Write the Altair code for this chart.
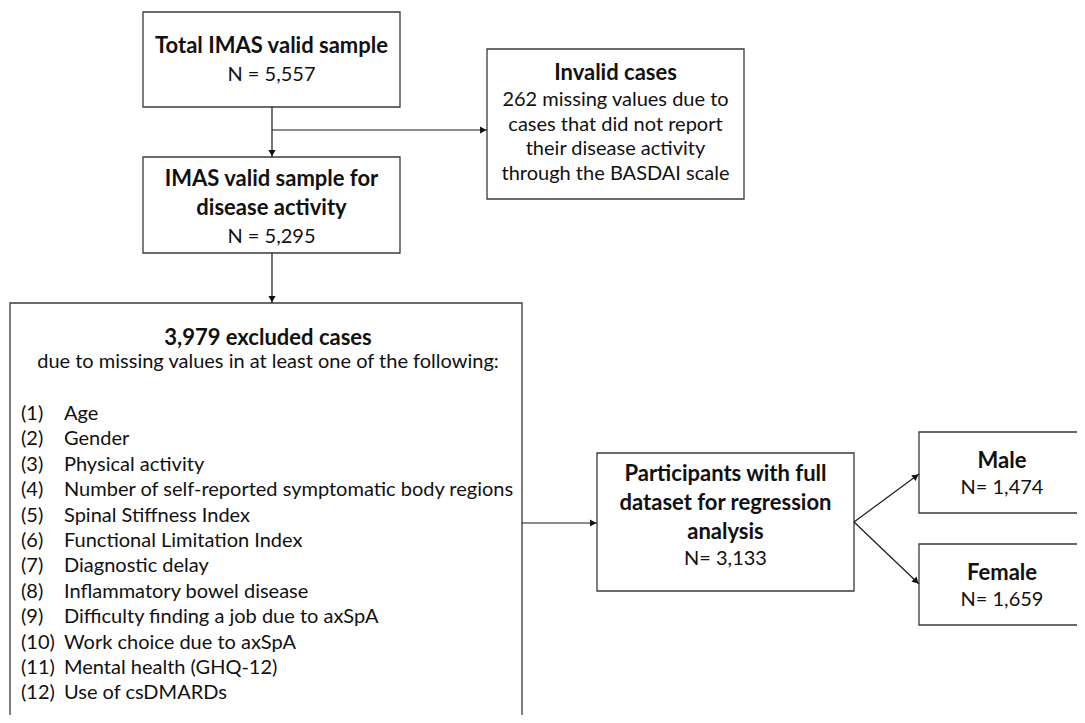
import math
import altair as alt
import pandas as pd

# ---------------- content ----------------
total_title = "Total IMAS valid sample"
total_n = "N = 5,557"
invalid_title = "Invalid cases"
invalid_lines = ["262 missing values due to", "cases that did not report",
                 "their disease activity", "through the BASDAI scale"]
valid_title_lines = ["IMAS valid sample for", "disease activity"]
valid_n = "N = 5,295"
excluded_title = "3,979 excluded cases"
excluded_sub = "due to missing values in at least one of the following:"
excluded_nums = ["(1)", "(2)", "(3)", "(4)", "(5)", "(6)", "(7)", "(8)",
                 "(9)", "(10)", "(11)", "(12)"]
excluded_items = ["Age", "Gender", "Physical activity",
                  "Number of self-reported symptomatic body regions",
                  "Spinal Stiffness Index", "Functional Limitation Index",
                  "Diagnostic delay", "Inflammatory bowel disease",
                  "Difficulty finding a job due to axSpA",
                  "Work choice due to axSpA", "Mental health (GHQ-12)",
                  "Use of csDMARDs"]
final_title_lines = ["Participants with full", "dataset for regression", "analysis"]
final_n = "N= 3,133"
male_title, male_n = "Male", "N= 1,474"
female_title, female_n = "Female", "N= 1,659"

# ---------------- layout (page pixels) ----------------
FONT = "Lato"
FS = 20
FSB = 22
BIG_R = 522
boxes = pd.DataFrame([
    dict(x=143, x2=400, y=12, y2=107),      # total
    dict(x=487, x2=744, y=49, y2=199),      # invalid
    dict(x=143, x2=400, y=157, y2=253),     # valid
    dict(x=10, x2=BIG_R, y=303, y2=760),    # excluded
    dict(x=597, x2=854, y=453, y2=591),     # final
    dict(x=919, x2=1120, y=432, y2=513),    # male
    dict(x=919, x2=1120, y=544, y2=625),    # female
])

segments = [
    (272, 107, 272, 157),
    (272, 130, 487, 130),
    (272, 253, 272, 303),
    (BIG_R, 523, 597, 523),
    (854, 522, 919, 474),
    (854, 522, 919, 584),
]
seg_df = pd.DataFrame([dict(x=a, y=b, x2=c, y2=d) for a, b, c, d in segments])
heads = []
R = 3.8
for a, b, c, d in segments:
    L = math.hypot(c - a, d - b)
    ux, uy = (c - a) / L, (d - b) / L
    ang = math.degrees(math.atan2(ux, -uy)) % 360
    heads.append(dict(x=c - ux * R, y=d - uy * R, ang=ang))
head_df = pd.DataFrame(heads)

bold_rows = []
reg_rows = []
def add(rows, text, x, y):
    rows.append(dict(text=text, x=x, y=y))

add(bold_rows, total_title, 271.5, 46)
add(reg_rows, total_n, 271.5, 75)
add(bold_rows, invalid_title, 615.5, 73)
for i, t in enumerate(invalid_lines):
    add(reg_rows, t, 615.5, 100 + i * 24.5)
for i, t in enumerate(valid_title_lines):
    add(bold_rows, t, 271.5, 179 + i * 29)
add(reg_rows, valid_n, 271.5, 237)
add(bold_rows, excluded_title, 268, 338)
add(reg_rows, excluded_sub, 268, 362)
for i, t in enumerate(final_title_lines):
    add(bold_rows, t, 725.5, 474 + i * 29)
add(reg_rows, final_n, 725.5, 559)
add(bold_rows, male_title, 1002, 461)
add(reg_rows, male_n, 1002, 488)
add(bold_rows, female_title, 1002, 573)
add(reg_rows, female_n, 1002, 600)

list_rows = []
for i, (n, t) in enumerate(zip(excluded_nums, excluded_items)):
    yy = 414 + i * 25.4
    list_rows.append(dict(text=n, x=21, y=yy))
    list_rows.append(dict(text=t, x=64, y=yy))

bold_df = pd.DataFrame(bold_rows)
reg_df = pd.DataFrame(reg_rows)
list_df = pd.DataFrame(list_rows)

xs = alt.Scale(domain=[8, 1077], nice=False, zero=False)
ys = alt.Scale(domain=[8, 715], nice=False, zero=False, reverse=True)
X = lambda f="x": alt.X(f"{f}:Q", scale=xs, axis=None)
Y = lambda f="y": alt.Y(f"{f}:Q", scale=ys, axis=None)

rects = alt.Chart(boxes).mark_rect(fill="white", stroke="#3a3a3a", strokeWidth=1.3, clip=True).encode(
    x=X(), x2="x2:Q", y=Y(), y2="y2:Q")
lines = alt.Chart(seg_df).mark_rule(color="#1a1a1a", strokeWidth=1.2).encode(
    x=X(), x2="x2:Q", y=Y(), y2="y2:Q")
arrows = alt.Chart(head_df).mark_point(shape="triangle-up", filled=True, color="#111111",
                                      size=52, opacity=1, strokeWidth=0).encode(
    x=X(), y=Y(), angle=alt.Angle("ang:Q", scale=None))
btext = alt.Chart(bold_df).mark_text(font=FONT, fontSize=FSB, fontWeight="bold", color="#111111",
                                     align="center", baseline="middle").encode(
    x=X(), y=Y(), text="text:N")
rtext = alt.Chart(reg_df).mark_text(font=FONT, fontSize=FS, color="#111111",
                                    align="center", baseline="middle").encode(
    x=X(), y=Y(), text="text:N")
ltext = alt.Chart(list_df).mark_text(font=FONT, fontSize=FS, color="#111111",
                                     align="left", baseline="middle").encode(
    x=X(), y=Y(), text="text:N")

chart = alt.layer(rects, lines, arrows, btext, rtext, ltext).properties(
    width=1069, height=707, padding=0,
    autosize=alt.AutoSizeParams(type="fit", contains="padding"),
).configure_view(stroke=None)

chart.save("out.html", embed_options={"renderer": "svg", "actions": False})
